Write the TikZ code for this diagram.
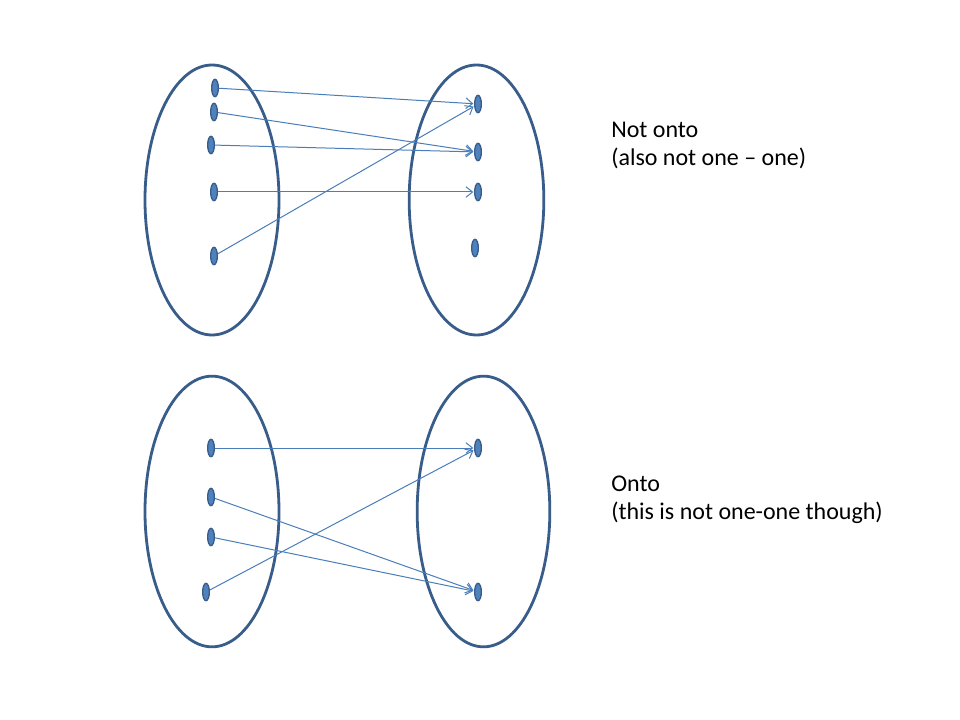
\documentclass[tikz,border=0pt]{standalone}
\usepackage{fontspec}
\setmainfont{Carlito}
\usetikzlibrary{shapes.geometric,arrows.meta}
\definecolor{setc}{HTML}{385D8A}
\definecolor{dotc}{HTML}{4F81BD}
\definecolor{arrc}{HTML}{4A7EBB}
\tikzset{
  setbox/.style={ellipse,draw=setc,line width=2.1pt,inner sep=0pt},
  elem/.style={ellipse,draw=setc,fill=dotc,line width=1pt,inner sep=0pt,minimum width=5pt,minimum height=13pt},
  maparrow/.style={draw=arrc,line width=0.75pt,-{Straight Barb[length=5pt,width=8pt,line width=0.75pt]},shorten >=0.5pt},
  lbl/.style={anchor=base west,inner sep=0pt,font=\fontsize{18}{21}\selectfont}
}
\begin{document}
\begin{tikzpicture}[x=0.75pt,y=-0.75pt]
\useasboundingbox (0,0) rectangle (960,720);
\fill[white] (0,0) rectangle (960,720);
% top sets
\node[setbox,minimum width=100.5pt,minimum height=202.5pt] (A) at (212,200) {};
\node[setbox,minimum width=101pt,minimum height=202.5pt] (B) at (476.5,200) {};
\node[elem] (a1) at (215,88) {};
\node[elem] (a2) at (214,112) {};
\node[elem] (a3) at (211,145) {};
\node[elem] (a4) at (214,192) {};
\node[elem] (a5) at (214,256) {};
\node[elem] (b1) at (478,104) {};
\node[elem] (b2) at (478,152) {};
\node[elem] (b3) at (478,192) {};
\node[elem] (b4) at (475,248) {};
\draw[maparrow] (a1) -- (b1);
\draw[maparrow] (a2) -- (b2);
\draw[maparrow] (a3) -- (b2);
\draw[maparrow] (a4) -- (b3);
\draw[maparrow] (a5) -- (b1);
\node[lbl] (t1) at (611,138) {Not onto};
\node[lbl] (t2) at (611,166) {(also not one – one)};
% bottom sets
\node[setbox,minimum width=100.5pt,minimum height=203pt] (C) at (212,511.5) {};
\node[setbox,minimum width=99.5pt,minimum height=203pt] (D) at (483.5,511.5) {};
\node[elem] (c1) at (211,448) {};
\node[elem] (c2) at (211,497) {};
\node[elem] (c3) at (211,537) {};
\node[elem] (c4) at (206,592) {};
\node[elem] (d1) at (478,448) {};
\node[elem] (d2) at (478,592) {};
\draw[maparrow] (c1) -- (d1);
\draw[maparrow] (c2) -- (d2);
\draw[maparrow] (c3) -- (d2);
\draw[maparrow] (c4) -- (d1);
\node[lbl] (t3) at (611,491) {Onto};
\node[lbl] (t4) at (611,519) {(this is not one-one though)};
\end{tikzpicture}
\end{document}
